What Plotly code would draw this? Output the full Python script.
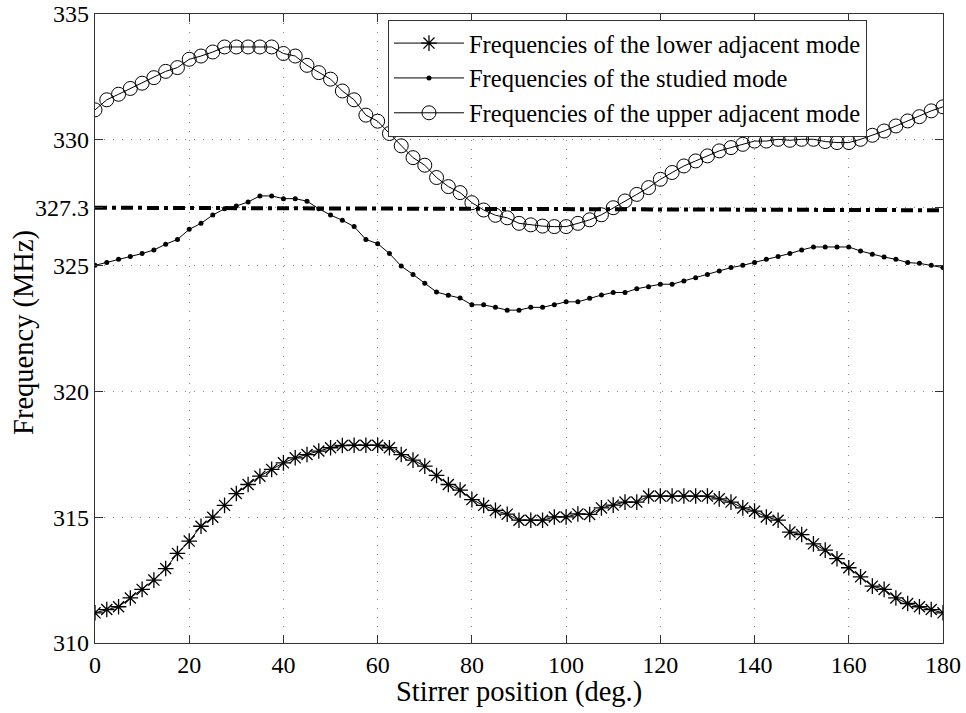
import plotly.graph_objects as go

stirrer_deg = [i * 2.5 for i in range(73)]

lower_mode = [311.2, 311.33, 311.44, 311.79, 312.13, 312.5, 312.96, 313.56, 314.05, 314.64,
              315.0, 315.47, 315.94, 316.3, 316.63, 316.9, 317.16, 317.36, 317.49, 317.63,
              317.76, 317.85, 317.86, 317.86, 317.86, 317.76, 317.49, 317.27, 317.03, 316.66,
              316.3, 316.08, 315.7, 315.47, 315.27, 315.12, 314.88, 314.88, 314.88, 315.01,
              315.01, 315.13, 315.11, 315.37, 315.48, 315.6, 315.6, 315.84, 315.84, 315.84,
              315.84, 315.84, 315.84, 315.73, 315.6, 315.37, 315.24, 315.01, 314.88, 314.41,
              314.31, 313.94, 313.69, 313.35, 312.99, 312.63, 312.26, 312.13, 311.79, 311.57,
              311.44, 311.33, 311.2]

studied_mode = [325.01, 325.12, 325.25, 325.36, 325.48, 325.62, 325.85, 326.04, 326.44, 326.68,
                327.01, 327.26, 327.37, 327.53, 327.77, 327.77, 327.66, 327.66, 327.56, 327.26,
                327.01, 326.8, 326.55, 326.04, 325.87, 325.48, 324.98, 324.65, 324.3, 323.95,
                323.82, 323.71, 323.44, 323.44, 323.34, 323.23, 323.23, 323.34, 323.34, 323.44,
                323.56, 323.56, 323.7, 323.83, 323.93, 323.93, 324.08, 324.16, 324.26, 324.26,
                324.39, 324.52, 324.65, 324.79, 324.92, 325.01, 325.12, 325.25, 325.36, 325.48,
                325.62, 325.74, 325.74, 325.74, 325.74, 325.58, 325.45, 325.34, 325.25, 325.12,
                325.09, 325.01, 324.92]

upper_mode = [331.19, 331.59, 331.81, 332.04, 332.25, 332.47, 332.72, 332.87, 333.2, 333.33,
              333.49, 333.69, 333.69, 333.69, 333.69, 333.69, 333.43, 333.33, 332.96, 332.67,
              332.41, 331.94, 331.59, 330.98, 330.74, 330.25, 329.76, 329.29, 328.99, 328.5,
              328.14, 327.9, 327.5, 327.21, 327.0, 326.9, 326.68, 326.62, 326.57, 326.55,
              326.55, 326.68, 326.82, 327.02, 327.3, 327.57, 327.83, 328.1, 328.43, 328.7,
              328.96, 329.16, 329.36, 329.56, 329.69, 329.82, 329.95, 329.95, 330.02, 329.98,
              330.02, 330.02, 329.93, 329.89, 329.89, 330.02, 330.18, 330.35, 330.55, 330.75,
              330.92, 331.15, 331.31]

threshold_x = [0, 180]
threshold_y = [327.3, 327.2]

y_ticks = [310, 315, 320, 325, 327.3, 330, 335]
y_tick_text = ["310", "315", "320", "325", "327.3", "330", "335"]
x_ticks = [0, 20, 40, 60, 80, 100, 120, 140, 160, 180]

x_title = "Stirrer position (deg.)"
y_title = "Frequency (MHz)"

FONT = "Liberation Serif, Times New Roman, serif"

fig = go.Figure()

fig.add_trace(go.Scatter(
    x=threshold_x, y=threshold_y, mode="lines", showlegend=False,
    line=dict(color="black", width=4, dash="12px,5px,4px,5px"), hoverinfo="skip"))

fig.add_trace(go.Scatter(
    x=stirrer_deg, y=lower_mode, mode="lines+markers",
    name="Frequencies of the lower adjacent mode",
    line=dict(color="black", width=1),
    marker=dict(symbol="asterisk-open", size=13, color="black",
                line=dict(color="black", width=1.3))))

fig.add_trace(go.Scatter(
    x=stirrer_deg, y=studied_mode, mode="lines+markers",
    name="Frequencies of the studied mode",
    line=dict(color="black", width=1),
    marker=dict(symbol="circle", size=5, color="black")))

fig.add_trace(go.Scatter(
    x=stirrer_deg, y=upper_mode, mode="lines+markers",
    name="Frequencies of the upper adjacent mode",
    line=dict(color="black", width=1),
    marker=dict(symbol="circle-open", size=14, color="black",
                line=dict(color="black", width=1))))

axis_common = dict(
    showline=True, linecolor="#333333", linewidth=1.2, mirror="ticks",
    ticks="inside", ticklen=8, tickcolor="#333333", tickwidth=1,
    showgrid=True, gridcolor="#8a8a8a", griddash="1px,8px", gridwidth=1,
    zeroline=False, automargin=False,
    tickfont=dict(family=FONT, size=24, color="black"),
)

fig.update_xaxes(range=[0, 180], tickvals=x_ticks, ticktext=[str(v) for v in x_ticks],
                 **axis_common)
fig.update_yaxes(range=[310, 335], tickvals=y_ticks, ticktext=y_tick_text,
                 **axis_common)

fig.add_annotation(text=x_title, xref="paper", yref="paper", x=0.5, y=-0.078,
                   xanchor="center", yanchor="middle", showarrow=False,
                   font=dict(family=FONT, size=28.5, color="black"))
fig.add_annotation(text=y_title, xref="paper", yref="paper", x=-0.083, y=0.494,
                   xanchor="center", yanchor="middle", showarrow=False, textangle=-90,
                   font=dict(family=FONT, size=28.5, color="black"))

fig.update_layout(
    width=966, height=713,
    margin=dict(l=95, r=23, t=14, b=70),
    paper_bgcolor="white", plot_bgcolor="white",
    font=dict(family=FONT, color="black"),
    legend=dict(
        x=0.3455, y=0.991, xanchor="left", yanchor="top",
        bgcolor="white", bordercolor="#333333", borderwidth=1,
        font=dict(family=FONT, size=24.5, color="black"),
        tracegroupgap=0, itemwidth=70,
    ),
)

fig.write_html("out.html", config={"displayModeBar": False},
               post_script="document.body.style.margin='0';document.body.style.overflow='hidden';")
